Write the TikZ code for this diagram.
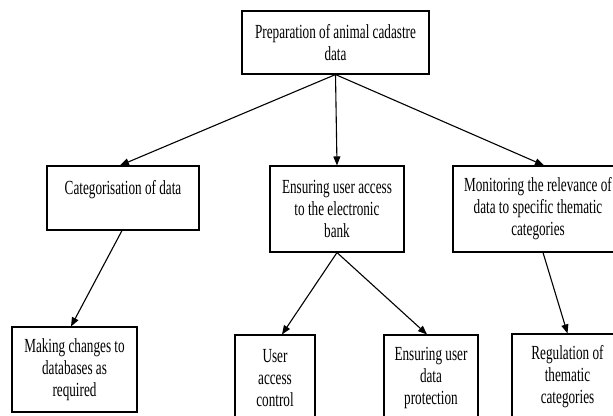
\documentclass[tikz,border=0pt]{standalone}
\usepackage{fontspec}
\setmainfont[FakeStretch=0.66]{Liberation Serif}
\usetikzlibrary{arrows.meta}
\begin{document}
\begin{tikzpicture}[x=1pt,y=-1pt,
  box/.style={draw=black,line width=1.1pt,rectangle,inner sep=0pt,align=center,
    font=\fontsize{20}{22}\selectfont},
  conn/.style={draw=black,line width=1.1pt,-{Triangle[length=9pt,width=7pt]}}]
\useasboundingbox (0,0) rectangle (613,415);
\node[box,minimum width=187pt,minimum height=63pt] (top) at (335.5,42.5) {Preparation of animal cadastre\\data};
\node[box,minimum width=152pt,minimum height=64pt] (cat) at (123,198) {Categorisation of data\\\mbox{}};
\node[box,minimum width=134pt,minimum height=86pt] (mid) at (337,209) {Ensuring user access\\to the electronic\\bank};
\node[box,minimum width=170pt,minimum height=86pt] (mon) at (538,209) {Monitoring the relevance of\\data to specific thematic\\categories};
\node[box,minimum width=125pt,minimum height=85pt] (mk) at (74.5,369.5) {Making changes to\\databases as\\required};
\node[box,minimum width=80pt,minimum height=86pt] (ua) at (275,378) {User\\access\\control};
\node[box,minimum width=94pt,minimum height=86pt] (dp) at (431,378) {Ensuring user\\data\\protection};
\node[box,minimum width=111pt,minimum height=86pt] (reg) at (567.5,377) {Regulation of\\thematic\\categories};
\draw[conn] (top.south) -- ([xshift=-3pt]cat.north);
\draw[conn] (top.south) -- (mid.north);
\draw[conn] (top.south) -- ([xshift=6pt]mon.north);
\draw[conn] ([xshift=-1pt]cat.south) -- ([xshift=-3.5pt]mk.north);
\draw[conn] (mid.south) -- ([xshift=7pt]ua.north);
\draw[conn] (mid.south) -- ([xshift=-4pt]dp.north);
\draw[conn] ([xshift=5pt]mon.south) -- (reg.north);
\end{tikzpicture}
\end{document}
